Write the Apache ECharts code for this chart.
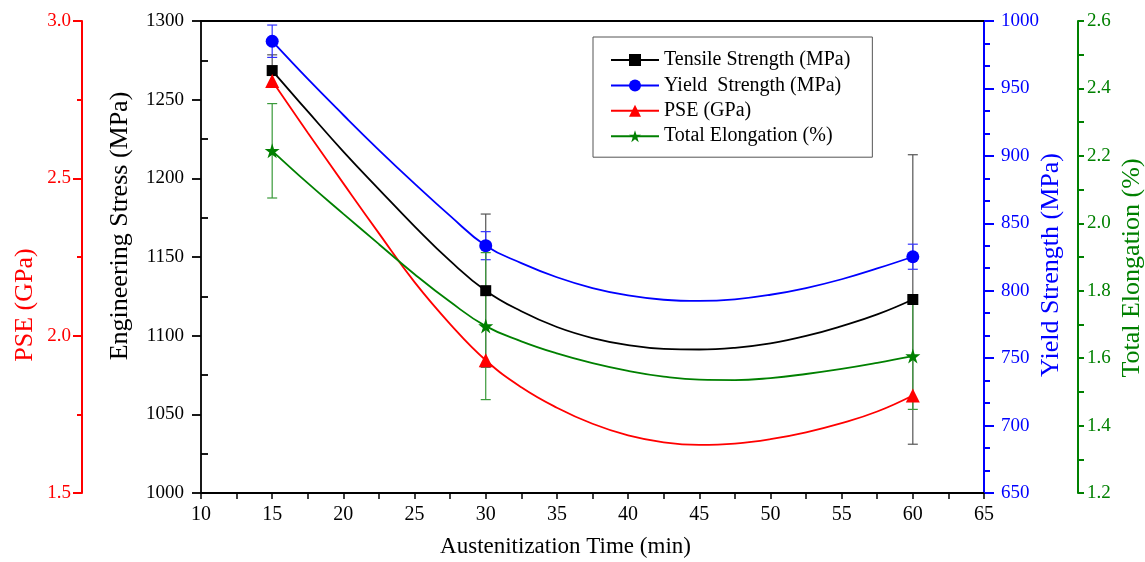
<!DOCTYPE html>
<html><head><meta charset="utf-8">
<script src="https://cdn.jsdelivr.net/npm/echarts@6/dist/echarts.min.js"></script>
<style>html,body{margin:0;padding:0;background:#fff;overflow:hidden}#c{width:1145px;height:562px}</style>
</head><body><div id="c"></div>
<script>
// ---- data ----
const times = [15, 30, 60];
const tensile = [1268.5, 1128.6, 1123];
const tensileErr = [10, 48.7, 92];
const yieldS = [985, 833.4, 825.2];
const yieldErr = [12, 10.4, 9.3];
const pse = [2.809, 1.922, 1.810];
const elong = [2.215, 1.695, 1.606];
const elongErr = [0.14, 0.218, 0.158];

// fitted curves as drawn in the reference (read at these times)
const fitX = [15, 17.5, 20, 22.5, 25, 27.5, 30, 32.5, 35, 37.5, 40, 42.5, 45, 47.5, 50, 52.5, 55, 57.5, 60];
const tensileFit = [1268.5, 1242.5, 1217, 1193, 1169.5, 1147.5, 1128.6, 1115.5, 1105.5, 1098.5, 1094, 1091.6, 1091.2, 1092.3, 1095.1, 1099.8, 1106.1, 1113.5, 1123];
const yieldFit = [985, 957, 930.3, 904.3, 879.4, 855.5, 833.4, 820.5, 810, 802, 796.5, 793.3, 792.4, 793.6, 797, 802, 808.5, 816.5, 825.2];
const pseFit = [2.809, 2.645, 2.484, 2.325, 2.170, 2.037, 1.922, 1.836, 1.771, 1.720, 1.683, 1.661, 1.653, 1.657, 1.671, 1.693, 1.722, 1.759, 1.810];
const elongFit = [2.215, 2.119, 2.028, 1.938, 1.849, 1.767, 1.695, 1.650, 1.614, 1.585, 1.562, 1.545, 1.536, 1.535, 1.541, 1.553, 1.568, 1.586, 1.606];

const names = ['Tensile Strength (MPa)', 'Yield  Strength (MPa)', 'PSE (GPa)', 'Total Elongation (%)'];
const xTitle = 'Austenitization Time (min)';
const yTitles = ['Engineering Stress (MPa)', 'PSE (GPa)', 'Yield Strength (MPa)', 'Total Elongation (%)'];

// ---- styles ----
const FONT = '"Liberation Serif","Times New Roman",serif';
const BLACK = '#000000', BLUE = '#0000ff', RED = '#ff0000', GREEN = '#008000';
const STAR = 'path://M50,0 L61.8,35.5 L99,35.5 L69,57.5 L80.5,93 L50,71 L19.5,93 L31,57.5 L1,35.5 L38.2,35.5 Z';

const pair = (xs, ys) => xs.map((x, i) => [x, ys[i]]);

function fitSeries(name, yIdx, ys, color, symbol) {
  return {
    type: 'line', name, yAxisIndex: yIdx, data: pair(fitX, ys), smooth: 0.45,
    symbol, showSymbol: false, z: 3, silent: true,
    lineStyle: { color, width: 1.8 }, itemStyle: { color }
  };
}
function pointSeries(yIdx, ys, color, symbol, size) {
  return {
    type: 'scatter', name: '_p' + yIdx, yAxisIndex: yIdx, data: pair(times, ys),
    symbol, symbolSize: size, z: 5, itemStyle: { color, opacity: 1 }
  };
}
function errSeries(yIdx, ys, errs, color, capW) {
  return {
    type: 'custom', name: '_e' + yIdx, yAxisIndex: yIdx, z: 2, silent: true,
    data: times.map((x, i) => [x, ys[i] - errs[i], ys[i] + errs[i]]),
    encode: { x: 0, y: [1, 2] },
    renderItem(params, api) {
      const lo = api.coord([api.value(0), api.value(1)]);
      const hi = api.coord([api.value(0), api.value(2)]);
      const w = capW / 2;
      const st = { stroke: color, lineWidth: 1.2 };
      return { type: 'group', children: [
        { type: 'line', shape: { x1: lo[0], y1: lo[1], x2: hi[0], y2: hi[1] }, style: st },
        { type: 'line', shape: { x1: lo[0] - w, y1: lo[1], x2: lo[0] + w, y2: lo[1] }, style: st },
        { type: 'line', shape: { x1: hi[0] - w, y1: hi[1], x2: hi[0] + w, y2: hi[1] }, style: st }
      ]};
    }
  };
}

function yAxis(o) {
  return Object.assign({
    type: 'value', splitLine: { show: false },
    nameLocation: 'middle', nameRotate: 90, nameMoveOverlap: false,
    axisLine: { show: true, onZero: false, lineStyle: { color: o.color, width: o.lw || 2 } },
    axisTick: { show: true, length: o.tl || 9, lineStyle: { color: o.color, width: o.lw || 2 } },
    minorTick: { show: true, splitNumber: o.minor, length: o.ml || 5, lineStyle: { color: o.color, width: o.lw || 2 } },
    axisLabel: { color: o.color, fontFamily: FONT, fontSize: 19, margin: o.margin, formatter: o.fmt || (v => String(v)) },
    nameTextStyle: { color: o.color, fontFamily: FONT, fontSize: 26, padding: o.pad || 0 }
  }, o.extra);
}

const chart = echarts.init(document.getElementById('c'), null, { renderer: 'canvas' });
chart.setOption({
  backgroundColor: '#ffffff',
  animation: false,
  grid: { left: 201, right: 161, top: 21, bottom: 69, containLabel: false, outerBoundsMode: 'none' },
  legend: {
    orient: 'vertical', left: 593, top: 37,
    data: names,
    itemWidth: 48, itemHeight: 15, itemGap: 5.4,
    padding: [13, 22, 11, 17],
    borderColor: '#555', borderWidth: 1, backgroundColor: '#fff',
    textStyle: { fontFamily: FONT, fontSize: 20, color: '#000' },
    selectedMode: false
  },
  xAxis: [{
    type: 'value', min: 10, max: 65, interval: 5,
    name: xTitle, nameLocation: 'middle', nameGap: 42, nameMoveOverlap: false,
    nameTextStyle: { color: '#000', fontFamily: FONT, fontSize: 23, padding: [0, 54, 0, 0] },
    axisLine: { show: true, onZero: false, lineStyle: { color: '#000', width: 2 } },
    axisTick: { show: true, length: 6, lineStyle: { color: '#000', width: 1.5 } },
    minorTick: { show: true, splitNumber: 2, length: 6, lineStyle: { color: '#000', width: 1.5 } },
    axisLabel: { color: '#000', fontFamily: FONT, fontSize: 20, margin: 12 },
    splitLine: { show: false }
  }, {
    type: 'value', min: 10, max: 65, position: 'top',
    axisLine: { show: true, onZero: false, lineStyle: { color: '#000', width: 2 } },
    axisTick: { show: false }, axisLabel: { show: false }, splitLine: { show: false }
  }],
  yAxis: [
    yAxis({ color: BLACK, lw: 1.8, minor: 2, margin: 17, tl: 9, ml: 0.01, pad: [0, 0, 0, 62],
      extra: { min: 1000, max: 1300, interval: 50, position: 'left', name: yTitles[0], nameGap: 68 } }),
    yAxis({ color: RED, minor: 2, margin: 11, tl: 9, ml: 5, fmt: v => v.toFixed(1), pad: [0, 96, 0, 0],
      extra: { min: 1.5, max: 3.0, interval: 0.5, position: 'left', offset: 119, name: yTitles[1], nameGap: 44 } }),
    yAxis({ color: BLUE, minor: 3, margin: 17, tl: 10, ml: 6, pad: [0, 16, 0, 0],
      extra: { min: 650, max: 1000, interval: 50, position: 'right', name: yTitles[2], nameGap: 54 } }),
    yAxis({ color: GREEN, minor: 2, margin: 9, tl: 6, ml: 6, fmt: v => v.toFixed(1), pad: [0, 22, 0, 0],
      extra: { min: 1.2, max: 2.6, interval: 0.2, position: 'right', offset: 94, name: yTitles[3], nameGap: 41 } }),
    // overlay on the left axis: inward minor ticks
    { type: 'value', min: 1000, max: 1300, interval: 50, position: 'left',
      axisLine: { show: false }, axisLabel: { show: false }, splitLine: { show: false },
      axisTick: { show: false, inside: true },
      minorTick: { show: true, splitNumber: 2, length: 7, lineStyle: { color: '#000', width: 1.8 } } }
  ],
  series: [
    errSeries(0, tensile, tensileErr, '#555555', 10),
    errSeries(2, yieldS, yieldErr, '#3333ff', 10),
    errSeries(3, elong, elongErr, '#3a9a3a', 10),
    fitSeries(names[0], 0, tensileFit, BLACK, 'rect'),
    fitSeries(names[1], 2, yieldFit, BLUE, 'circle'),
    fitSeries(names[2], 1, pseFit, RED, 'triangle'),
    fitSeries(names[3], 3, elongFit, GREEN, STAR),
    pointSeries(0, tensile, BLACK, 'rect', 11),
    pointSeries(2, yieldS, BLUE, 'circle', 13),
    pointSeries(1, pse, RED, 'triangle', 14),
    pointSeries(3, elong, GREEN, STAR, 15)
  ]
});
</script>
</body></html>
